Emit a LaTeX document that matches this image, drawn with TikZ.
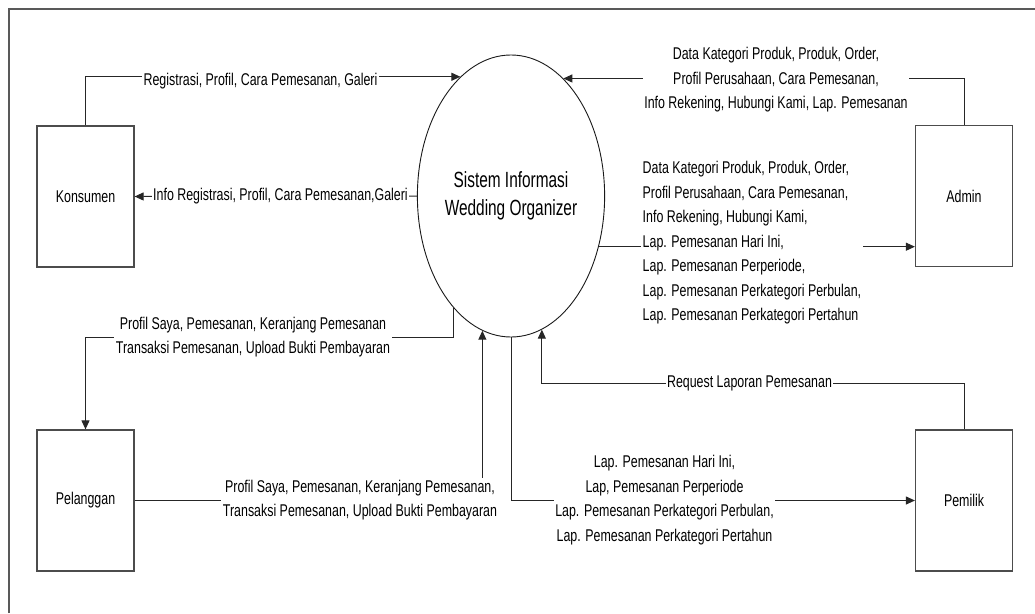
\documentclass[tikz,border=0pt]{standalone}
\usepackage{fontspec}
\setmainfont{Liberation Sans}[FakeStretch=0.73]
\newfontfamily\procfont{Liberation Sans}[FakeStretch=0.7]
\usetikzlibrary{shapes.geometric, arrows.meta}
\tikzset{entity/.style = {draw=black!70, line width=1.2pt, minimum width=97pt, minimum height=141pt, inner sep=0pt, font=\fontsize{17}{20}\selectfont}}
\tikzset{process/.style = {ellipse, draw=black!90, line width=0.9pt, minimum width=168pt, minimum height=282pt, inner sep=0pt, align=center, font=\procfont\fontsize{22}{28}\selectfont}}
\tikzset{flow/.style = {line width=1pt, black!85, -{Triangle[length=9pt, width=8pt]}}}
\tikzset{flowtext/.style = {fill=white, inner sep=1.5pt, align=center, font=\fontsize{17}{24.5}\selectfont}}

\begin{document}
\begin{tikzpicture}[x=1pt, y=-1pt]
	\useasboundingbox (0,0) rectangle (1035,613);
	\draw[black!65, line width=1.5pt] (9,613) -- (9,9) -- (1035,9);

	\node[process] (sys) at (511,196) {Sistem Informasi\\Wedding Organizer};
	\node[entity] (kons) at (85.5,196.5) {Konsumen};
	\node[entity] (adm) at (964,196) {Admin};
	\node[entity] (pel) at (85.5,500.5) {Pelanggan};
	\node[entity] (pem) at (964,500.5) {Pemilik};

	\coordinate (bend) at (85.5,337);
	\coordinate (req) at (0,383);

	\draw[flow] (kons.north) |- (sys.113.1);
	\draw[flow] (sys.west) -- (kons.east);
	\draw[flow] (adm.north) |- (sys.66.3);
	\draw[flow] (sys.-30.7) -- (sys.-30.7 -| adm.west);
	\draw[flow] (sys.243.9) |- (bend) -- (pel.north);
	\draw[flow] (pel.east) -| (sys.258.1);
	\draw[flow] (sys.south) |- (pem.west);
	\draw[flow] (pem.north) |- (sys.-77.6 |- req) -- (sys.-77.6);

	\node[flowtext] (t1) at (260.5,81) {Registrasi, Profil, Cara Pemesanan, Galeri};
	\node[flowtext] (t2) at (280.5,196) {Info Registrasi, Profil, Cara Pemesanan,Galeri};
	\node[flowtext] (t3) at (776,80) {Data Kategori Produk, Produk, Order,\\Profil Perusahaan, Cara Pemesanan,\\Info Rekening, Hubungi Kami, Lap. Pemesanan};
	\node[flowtext, align=left, anchor=west] (t4) at (641,243) {Data Kategori Produk, Produk, Order,\\Profil Perusahaan, Cara Pemesanan,\\Info Rekening, Hubungi Kami,\\Lap. Pemesanan Hari Ini,\\Lap. Pemesanan Perperiode,\\Lap. Pemesanan Perkategori Perbulan,\\Lap. Pemesanan Perkategori Pertahun};
	\node[flowtext] (t5) at (253,337) {Profil Saya, Pemesanan, Keranjang Pemesanan\\Transaksi Pemesanan, Upload Bukti Pembayaran};
	\node[flowtext] (t6) at (360,500) {Profil Saya, Pemesanan, Keranjang Pemesanan,\\Transaksi Pemesanan, Upload Bukti Pembayaran};
	\node[flowtext] (t7) at (664.5,500) {Lap. Pemesanan Hari Ini,\\Lap, Pemesanan Perperiode\\Lap. Pemesanan Perkategori Perbulan,\\Lap. Pemesanan Perkategori Pertahun};
	\node[flowtext] (t8) at (749.5,383) {Request Laporan Pemesanan};
\end{tikzpicture}
\end{document}
